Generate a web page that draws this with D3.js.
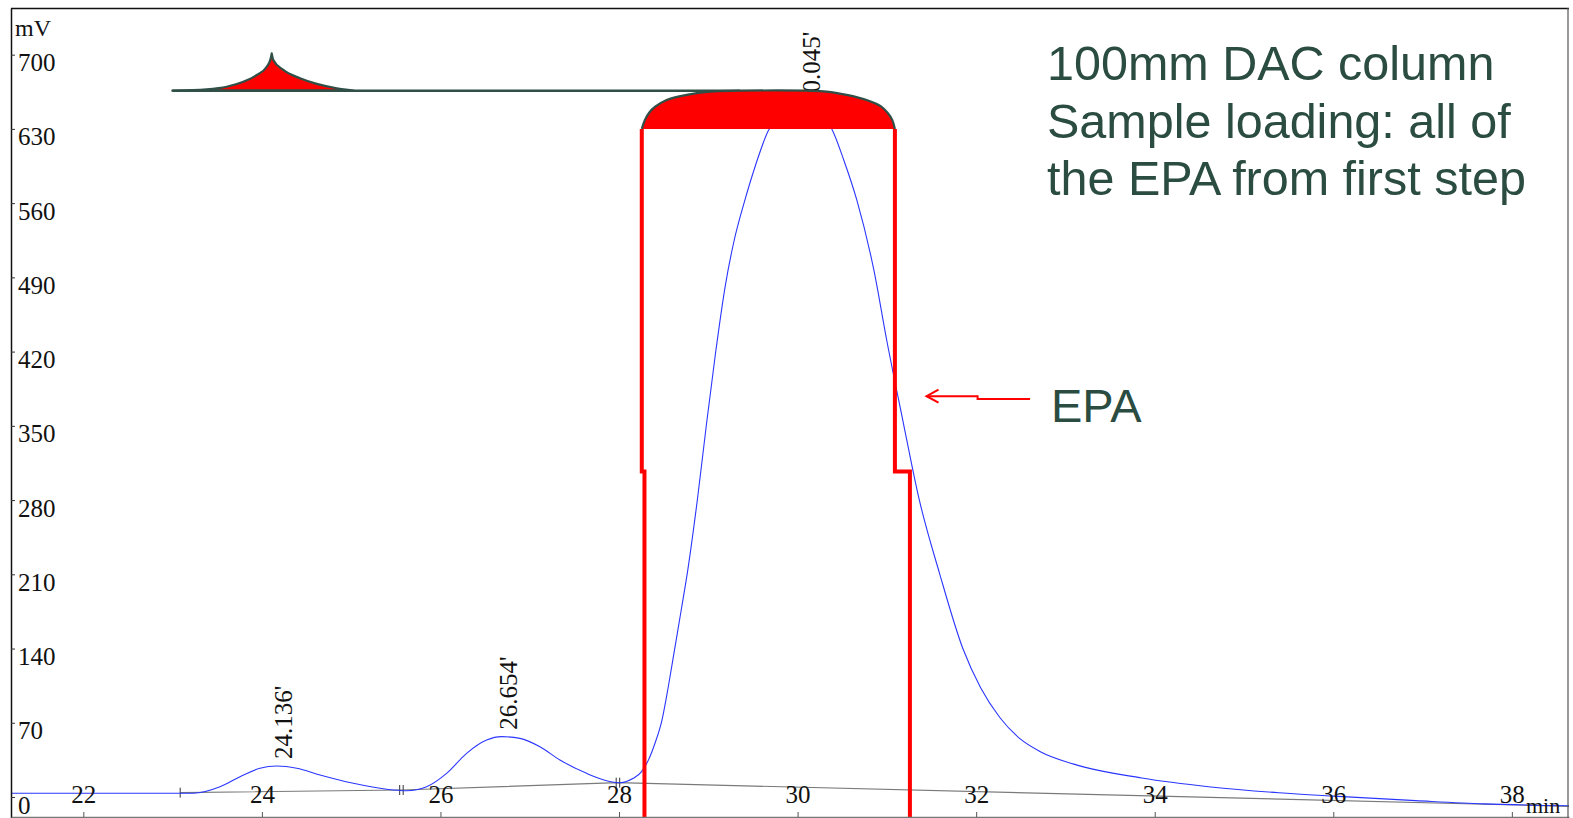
<!DOCTYPE html>
<html lang="en">
<head>
    <meta charset="UTF-8">
    <title>EPA chromatogram</title>
    <script src="https://d3js.org/d3.v7.min.js"></script>
    <style>
        body { margin: 0; background: #fff; }
    </style>
</head>
<body>
    <script>
        // axis ticks
        const xTicks = [22, 24, 26, 28, 30, 32, 34, 36, 38];
        const yTicks = [0, 70, 140, 210, 280, 350, 420, 490, 560, 630, 700];

        // detector signal (min, mV)
        const signalTime = [21.19, 22.5, 23.232, 23.531, 23.755, 23.979, 24.166, 24.390, 24.651, 25.024,
            25.398, 25.621, 25.845, 26.069, 26.293, 26.517, 26.685, 26.890, 27.114, 27.338,
            27.637, 27.861, 28.010, 28.159, 28.253, 28.33, 28.40, 28.48, 28.55, 28.62,
            28.70, 28.77, 28.88, 28.98, 29.08, 29.19, 29.29, 29.40, 29.53, 29.67,
            29.85, 30.03, 30.20, 30.383, 30.52, 30.663, 30.854, 31.0, 31.179, 31.358,
            31.593, 31.851, 32.05, 32.265, 32.49, 32.713, 33.094, 33.855, 34.628, 35.39,
            36.006, 36.924, 37.686, 38.64];
        const signalMv = [3.5, 3.5, 3.6, 9.7, 19.1, 27.1, 29.2, 27.1, 20.7, 12.9,
            7.3, 5.9, 9.7, 22.3, 41.2, 53.7, 56.9, 55.3, 47.4, 34.9,
            22.3, 15.4, 13.5, 17.6, 24, 35, 50, 72, 103, 138,
            178, 214, 282, 352, 418, 482, 525, 560, 596, 628,
            645, 650, 645, 630, 600, 563, 497, 430, 355, 282,
            210, 140, 103, 75, 55, 43, 31, 17.9, 9.5, 4,
            0.8, -3.4, -6.5, -8.2];

        // integration baseline and its event marks
        const baseTime = [23.085, 25.563, 27.988, 38.64];
        const baseMv = [4.1, 6.6, 13.5, -8.8];
        const markCount = [1, 2, 2, 0];

        // peaks
        const peakTime = [24.136, 26.654, 30.045];
        const peakMv = [29.2, 56.9, 646];

        // fraction collector trace (red shapes)
        const cuspTime = [22.997, 23.382, 23.606, 23.792, 23.942, 24.054, 24.099, 24.110,
            24.128, 24.240, 24.427, 24.614, 24.838, 25.024];
        const cuspMv = [666.0, 667.3, 669.7, 674.4, 680.8, 688.6, 696.5, 701.2,
            695.0, 685.6, 677.7, 672.4, 668.3, 666.2];
        const cuspApex = 7;
        const levelLine = [[22.997, 666.0], [29.354, 666.0]];
        const domeTime = [28.255, 28.290, 28.340, 28.405, 28.533, 28.757, 29.018, 29.354, 30.101,
            30.325, 30.549, 30.773, 30.930, 31.010, 31.060, 31.090];
        const domeMv = [630, 638.5, 645.5, 650.9, 657.3, 662.1, 665.2, 666.0, 666.0,
            665.2, 662.1, 657.3, 651.5, 645.0, 638.5, 630];
        const cutLeft = [[28.255, 630], [28.255, 307], [28.285, 307], [28.285, -25]];
        const cutRight = [[31.090, 630], [31.090, 307], [31.258, 307], [31.258, -25]];

        // EPA arrow (min, mV)
        const arrowPath = [[32.604, 375.4], [32.016, 375.4], [32.016, 377.9], [31.444, 377.9]];

        const noteLines = ["100mm DAC column", "Sample loading: all of", "the EPA from first step"];

        const W = 1573, H = 818;
        const plot = { left: 11, top: 8, right: 1569, bottom: 818 };
        const textGreen = "#2b4c40";
        const edgeGreen = "#2f4f47";

        const x = d3.scaleLinear().domain([21.19, 38.64]).range([plot.left, plot.right]);
        const y = d3.scaleLinear().domain([-19.8, 744]).range([plot.bottom, plot.top]);

        const svg = d3.select("body").append("svg")
            .attr("width", W)
            .attr("height", H);

        svg.append("clipPath").attr("id", "plotclip")
            .append("rect")
            .attr("x", plot.left).attr("y", plot.top)
            .attr("width", plot.right - plot.left).attr("height", plot.bottom - plot.top);

        const g = svg.append("g").attr("clip-path", "url(#plotclip)");

        const line = d3.line().x(d => x(d[0])).y(d => y(d[1]));
        const mono = d3.line().x(d => x(d[0])).y(d => y(d[1])).curve(d3.curveMonotoneX);

        // baseline
        const basePts = baseTime.map((t, i) => [t, baseMv[i]]);
        g.append("path")
            .attr("d", line(basePts))
            .attr("fill", "none")
            .attr("stroke", "#7a7a7a")
            .attr("stroke-width", 1.2);

        basePts.forEach((p, i) => {
            for (let k = 0; k < markCount[i]; k++) {
                const px = x(p[0]) + (k - (markCount[i] - 1) / 2) * 3.5;
                g.append("line")
                    .attr("x1", px).attr("x2", px)
                    .attr("y1", y(p[1]) - 5).attr("y2", y(p[1]) + 5)
                    .attr("stroke", "#333")
                    .attr("stroke-width", 1);
            }
        });

        // signal
        const signal = signalTime.map((t, i) => [t, signalMv[i]]);
        g.append("path")
            .attr("d", mono(signal))
            .attr("fill", "none")
            .attr("stroke", "#2a36ff")
            .attr("stroke-width", 1.1);

        // peak labels
        peakTime.forEach((t, i) => {
            const px = x(t) + 18, py = y(peakMv[i]) - 7;
            g.append("text")
                .attr("transform", `translate(${px},${py}) rotate(-90)`)
                .attr("font-family", "Liberation Serif, Times New Roman, serif")
                .attr("font-size", 25)
                .attr("fill", "#111")
                .text(t.toFixed(3) + "'");
        });

        // cusp shape
        const cusp = cuspTime.map((t, i) => [t, cuspMv[i]]);
        const leftPart = mono(cusp.slice(0, cuspApex + 1));
        const rightPart = mono(cusp.slice(cuspApex)).replace(/^M[^A-Za-z]*/, "");
        g.append("path")
            .attr("d", leftPart + rightPart + "Z")
            .attr("fill", "#ff0000")
            .attr("stroke", edgeGreen)
            .attr("stroke-width", 2.2)
            .attr("stroke-linejoin", "round");

        g.append("path")
            .attr("d", line(levelLine))
            .attr("fill", "none")
            .attr("stroke", edgeGreen)
            .attr("stroke-width", 2.5);

        // dome shape
        const dome = domeTime.map((t, i) => [t, domeMv[i]]);
        const domeCurve = d3.line().x(d => x(d[0])).y(d => y(d[1])).curve(d3.curveCatmullRom.alpha(0.5));
        g.append("path")
            .attr("d", domeCurve(dome) + "Z")
            .attr("fill", "#ff0000");
        g.append("path")
            .attr("d", domeCurve(dome))
            .attr("fill", "none")
            .attr("stroke", edgeGreen)
            .attr("stroke-width", 2.2);

        // cut lines
        [cutLeft, cutRight].forEach(c => {
            g.append("path")
                .attr("d", line(c))
                .attr("fill", "none")
                .attr("stroke", "#ff0000")
                .attr("stroke-width", 4);
        });

        // axes
        const serif = "Liberation Serif, Times New Roman, serif";
        const yAxis = svg.append("g")
            .attr("transform", `translate(${plot.left},0)`)
            .call(d3.axisRight(y).tickValues(yTicks).tickSize(4).tickSizeOuter(0).tickPadding(3));
        yAxis.select(".domain").attr("stroke", "#111").attr("stroke-width", 1.5);
        yAxis.selectAll(".tick line").attr("stroke", "#333");
        yAxis.selectAll("text")
            .attr("dy", null)
            .attr("y", 16)
            .attr("x", 7)
            .attr("font-family", serif)
            .attr("font-size", 25)
            .attr("fill", "#111");

        const xAxis = svg.append("g")
            .attr("transform", `translate(0,${plot.bottom - 1})`)
            .call(d3.axisTop(x).tickValues(xTicks).tickSize(5).tickSizeOuter(0).tickPadding(9));
        xAxis.select(".domain").attr("stroke", "#777").attr("stroke-width", 1.5);
        xAxis.selectAll(".tick line").attr("stroke", "#555");
        xAxis.selectAll("text")
            .attr("font-family", serif)
            .attr("font-size", 25)
            .attr("fill", "#111");

        // frame
        svg.append("line")
            .attr("x1", plot.left).attr("x2", plot.right)
            .attr("y1", plot.top + 0.5).attr("y2", plot.top + 0.5)
            .attr("stroke", "#111").attr("stroke-width", 1.5);
        svg.append("line")
            .attr("x1", plot.right - 1).attr("x2", plot.right - 1)
            .attr("y1", plot.top).attr("y2", plot.bottom)
            .attr("stroke", "#555").attr("stroke-width", 1.2);

        svg.append("text")
            .attr("x", 15).attr("y", 36)
            .attr("font-family", serif)
            .attr("font-size", 24)
            .attr("fill", "#111")
            .text("mV");

        svg.append("text")
            .attr("x", 1526).attr("y", 813)
            .attr("font-family", serif)
            .attr("font-size", 22)
            .attr("fill", "#111")
            .text("min");

        // EPA arrow
        svg.append("path")
            .attr("d", line(arrowPath))
            .attr("fill", "none")
            .attr("stroke", "#ff0000")
            .attr("stroke-width", 2);
        const tip = arrowPath[arrowPath.length - 1];
        svg.append("path")
            .attr("d", `M${x(tip[0]) + 12},${y(tip[1]) - 6.5}L${x(tip[0])},${y(tip[1])}L${x(tip[0]) + 12},${y(tip[1]) + 6.5}`)
            .attr("fill", "none")
            .attr("stroke", "#ff0000")
            .attr("stroke-width", 2);

        svg.append("text")
            .attr("x", 1051).attr("y", 422)
            .attr("font-family", "Liberation Sans, Arial, sans-serif")
            .attr("font-size", 47)
            .attr("fill", textGreen)
            .text("EPA");

        // note
        svg.append("g").selectAll("text")
            .data(noteLines)
            .enter()
            .append("text")
            .attr("x", 1047)
            .attr("y", (d, i) => 80 + i * 57.5)
            .attr("font-family", "Liberation Sans, Arial, sans-serif")
            .attr("font-size", 48.5)
            .attr("fill", textGreen)
            .text(d => d);
    </script>
</body>
</html>
